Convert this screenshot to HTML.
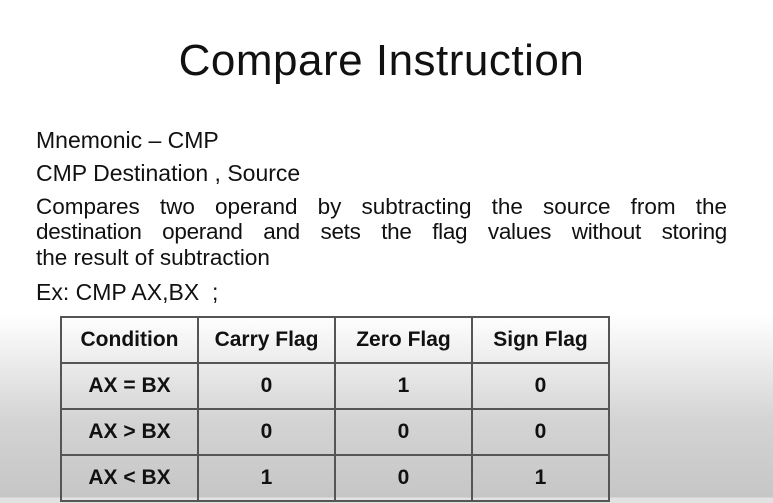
<!DOCTYPE html>
<html><head><style>
html,body{margin:0;padding:0}
body{width:773px;height:503px;position:relative;overflow:hidden;font-family:"Liberation Sans",sans-serif;color:#111;
background:linear-gradient(to bottom,#fff 0px,#fff 315px,#d4d4d4 420px,#c6c6c6 497px,#e2e2e2 498px,#e2e2e2 503px);}
.t{position:absolute;white-space:nowrap}
h1{position:absolute;left:0;width:763px;text-align:center;top:36px;margin:0;font-weight:normal;font-size:44px;letter-spacing:0.5px}
.b{font-size:23px;left:36px}
.l{position:absolute;left:36px;width:691px;font-size:22.5px;text-align:justify;text-align-last:justify;white-space:nowrap;line-height:26px}
table{position:absolute;left:60px;top:316px;border-collapse:collapse;font-weight:bold;font-size:21px}
td{border:2px solid #555;width:135px;height:44px;text-align:center;padding:0}
</style></head><body>
<h1>Compare Instruction</h1>
<div class="t b" style="top:127px">Mnemonic – CMP</div>
<div class="t b" style="top:160px">CMP Destination , Source</div>
<div class="l" style="top:194px">Compares two operand by subtracting the source from the</div>
<div class="l" style="top:219px;letter-spacing:-0.3px">destination operand and sets the flag values without storing</div>
<div class="t b" style="top:245px;font-size:22.5px">the result of subtraction</div>
<div class="t b" style="top:279px">Ex: CMP AX,BX&nbsp; ;</div>
<table>
<tr><td>Condition</td><td>Carry Flag</td><td>Zero Flag</td><td>Sign Flag</td></tr>
<tr><td>AX = BX</td><td>0</td><td>1</td><td>0</td></tr>
<tr><td>AX &gt; BX</td><td>0</td><td>0</td><td>0</td></tr>
<tr><td>AX &lt; BX</td><td>1</td><td>0</td><td>1</td></tr>
</table>
</body></html>
